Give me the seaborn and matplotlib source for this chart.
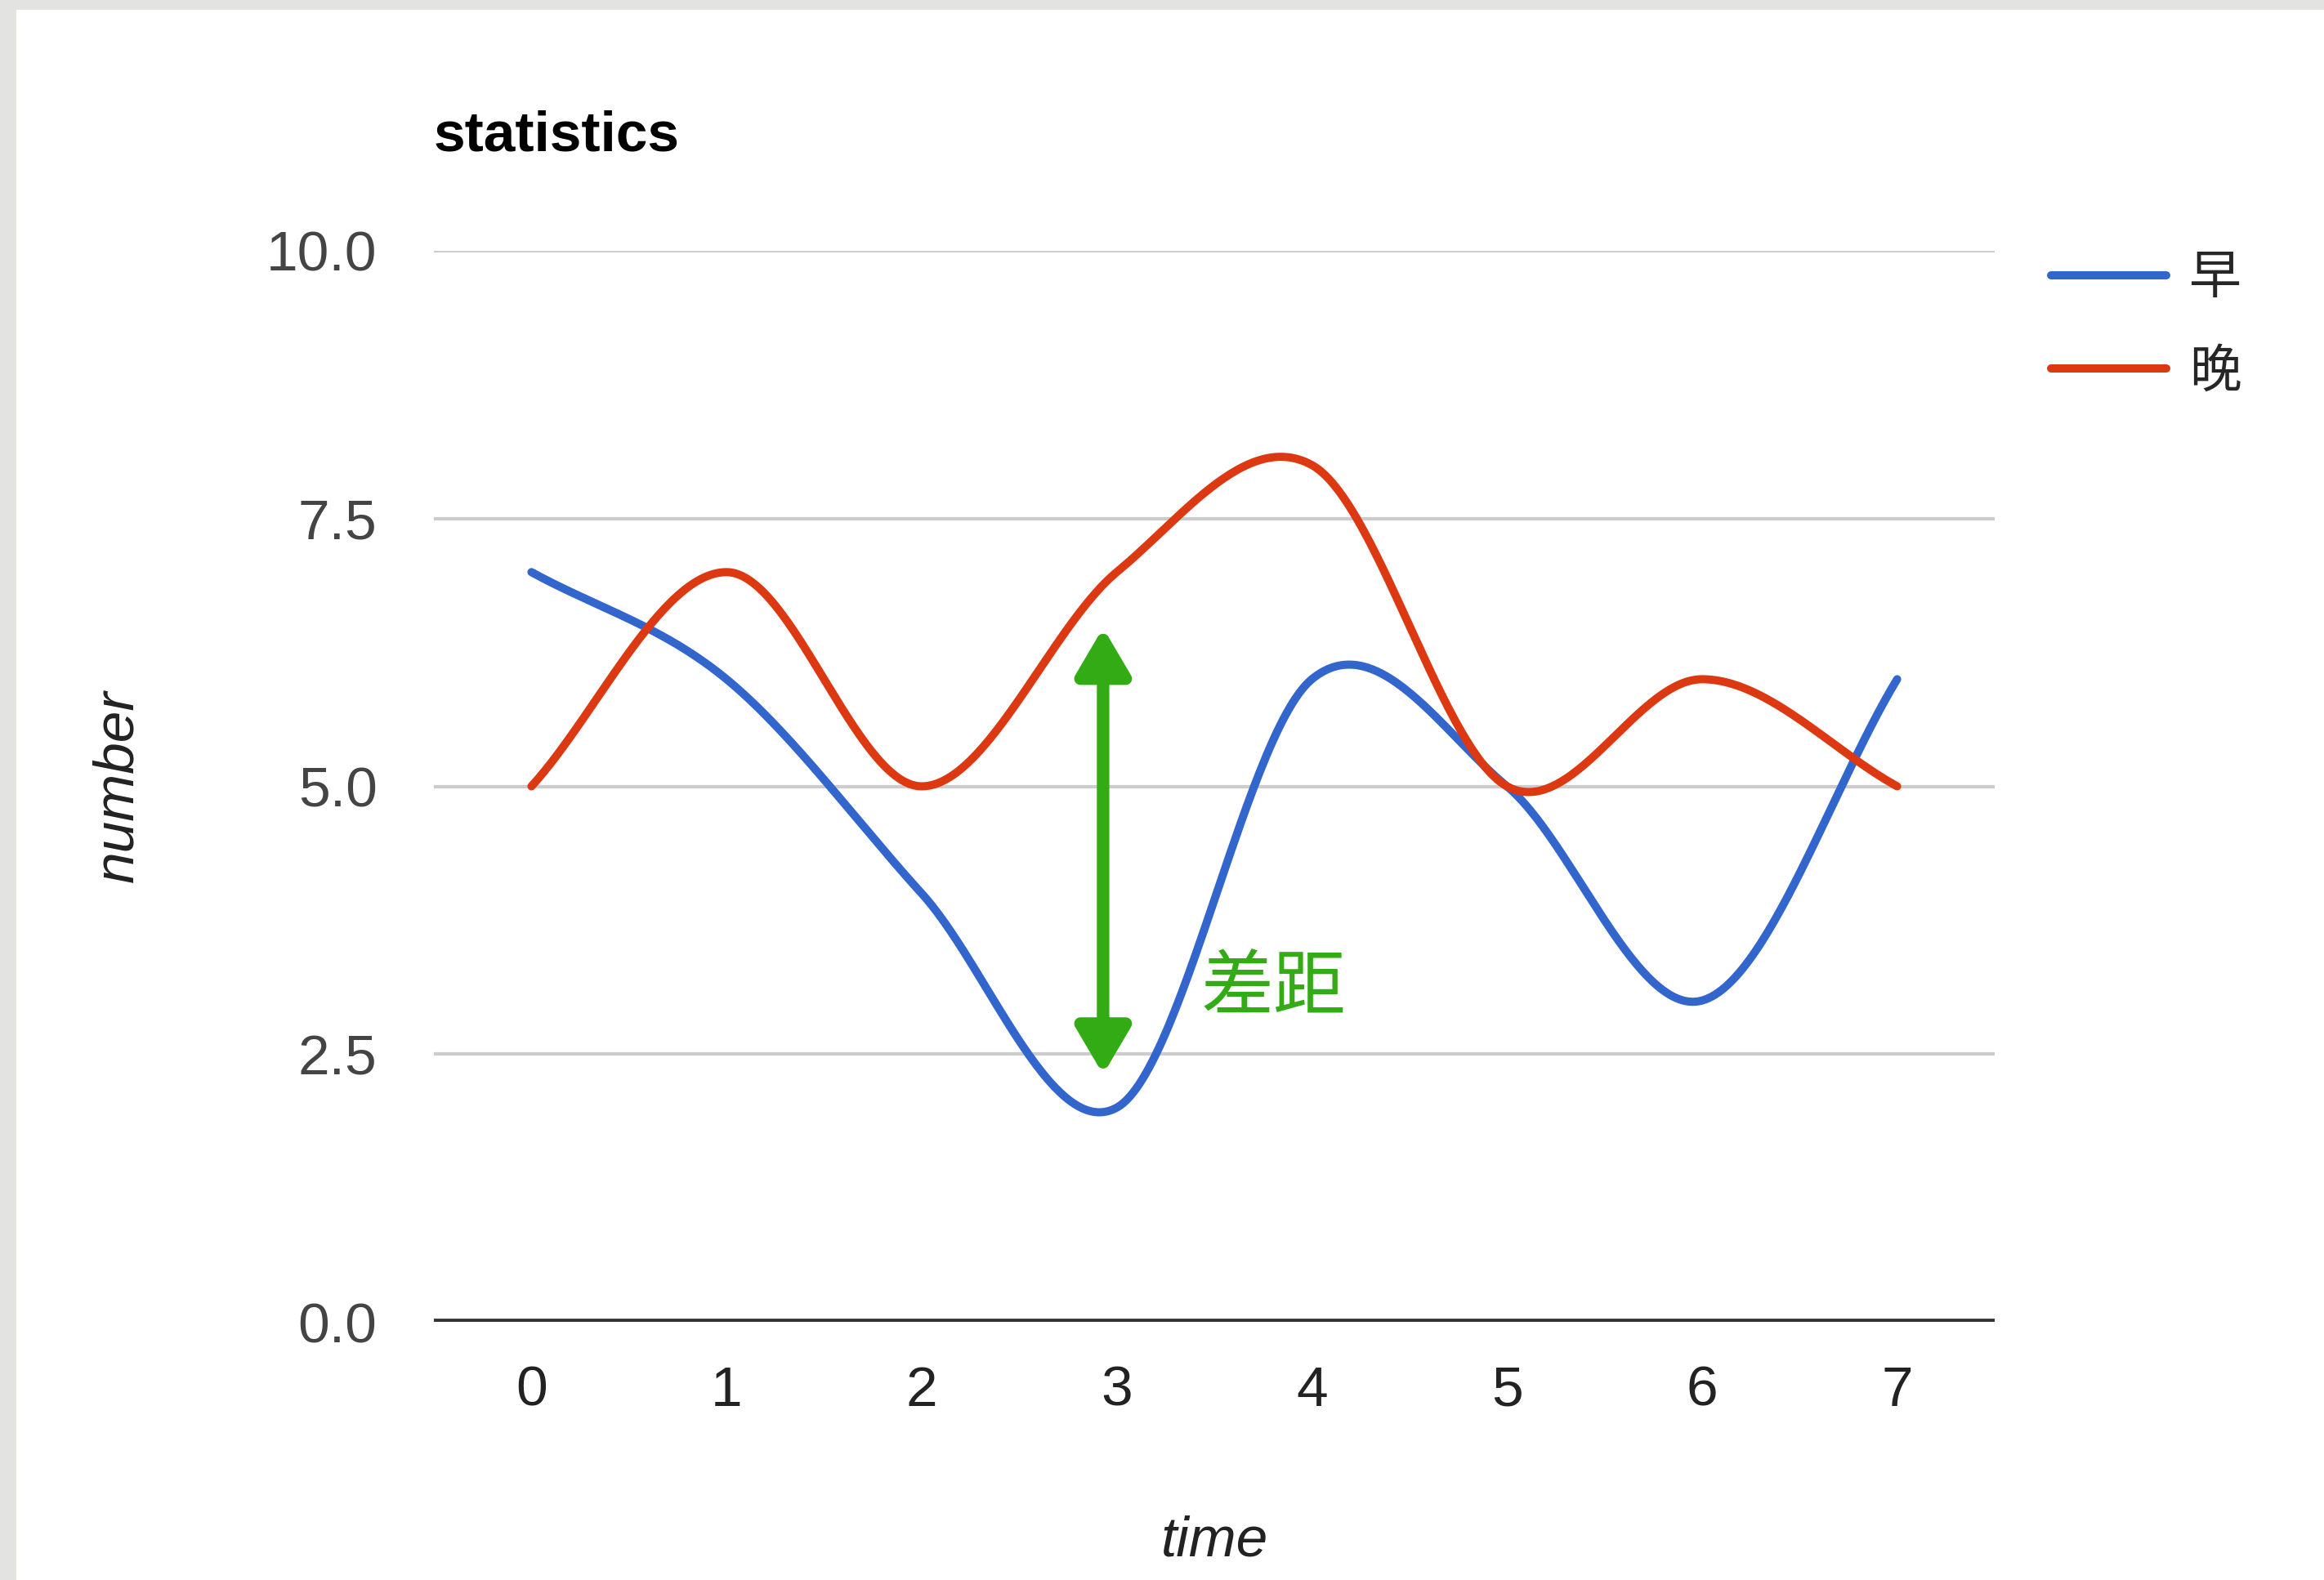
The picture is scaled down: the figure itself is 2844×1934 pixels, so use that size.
import numpy as np
import pandas as pd
import matplotlib
matplotlib.use("Agg")
import matplotlib.pyplot as plt
import seaborn as sns
from matplotlib.patches import FancyArrowPatch, ArrowStyle, Rectangle

# ---------------- data ----------------
time = [0, 1, 2, 3, 4, 5, 6, 7]
zao = [7, 6, 4, 2, 6, 5, 3, 6]      # 早
wan = [5, 7, 5, 7, 8, 5, 6, 5]      # 晚
series_names = ["早", "晚"]
y_ticks = [0, 2.5, 5, 7.5, 10]
y_tick_labels = ["0.0", "2.5", "5.0", "7.5", "10.0"]
title = "statistics"
x_label = "time"
y_label = "number"
annot_text = "差距"
gap_x = 2.93
gap_top = 6.48
gap_bottom = 2.31

colors = ["#3366cc", "#dc3912"]
green = "#33ab15"

sns.set_theme(style="white")
plt.rcParams["font.family"] = ["Liberation Sans", "Noto Sans CJK SC", "DejaVu Sans"]


def smooth(x, y, n=60):
    """Cubic Hermite (Catmull-Rom style) curve through the data points (rendering only)."""
    x = np.asarray(x, float)
    y = np.asarray(y, float)
    m = np.empty_like(y)
    m[1:-1] = (y[2:] - y[:-2]) / (x[2:] - x[:-2])
    m[0] = (y[1] - y[0]) / (x[1] - x[0])
    m[-1] = (y[-1] - y[-2]) / (x[-1] - x[-2])
    xs, ys = [], []
    for i in range(len(x) - 1):
        h = x[i + 1] - x[i]
        t = np.linspace(0, 1, n, endpoint=(i == len(x) - 2))
        h00 = 2 * t**3 - 3 * t**2 + 1
        h10 = t**3 - 2 * t**2 + t
        h01 = -2 * t**3 + 3 * t**2
        h11 = t**3 - t**2
        xs.append(x[i] + t * h)
        ys.append(h00 * y[i] + h10 * h * m[i] + h01 * y[i + 1] + h11 * h * m[i + 1])
    return np.concatenate(xs), np.concatenate(ys)


frames = []
for name, vals in zip(series_names, [zao, wan]):
    sx, sy = smooth(time, vals)
    frames.append(pd.DataFrame({"time": sx, "value": sy, "series": name}))
df = pd.concat(frames, ignore_index=True)

W, H, DPI = 2844, 1934, 200
fig = plt.figure(figsize=(W / DPI, H / DPI), dpi=DPI, facecolor="white")

# gray screenshot border (top and left)
fig.patches.append(Rectangle((0, 1 - 12 / H), 1, 12 / H, transform=fig.transFigure,
                             facecolor="#e3e3e1", edgecolor="none", zorder=-5))
fig.patches.append(Rectangle((0, 0), 20 / W, 1, transform=fig.transFigure,
                             facecolor="#e3e3e1", edgecolor="none", zorder=-5))

ax = fig.add_axes([531 / W, 1 - 1618 / H, (2441 - 531) / W, (1618 - 307) / H])
ax.set_facecolor("white")

sns.lineplot(data=df, x="time", y="value", hue="series", hue_order=series_names,
             palette=colors, linewidth=3.6, sort=False, estimator=None, units="series",
             ax=ax, legend=True)

ax.set_xlim(-0.5, 7.5)
ax.set_ylim(0, 10)
ax.set_xticks(time)
ax.set_xticklabels([str(t) for t in time])
ax.set_yticks(y_ticks)
ax.set_yticklabels(y_tick_labels)
for s in ax.spines.values():
    s.set_visible(False)
ax.grid(axis="y", color="#cccccc", linewidth=1.5)
ax.grid(axis="x", visible=False)
ax.axhline(0, color="#333333", linewidth=2.8, zorder=3)
ax.tick_params(axis="x", length=0, pad=19, labelsize=25, labelcolor="#222222")
ax.tick_params(axis="y", length=0, pad=25, labelsize=25, labelcolor="#444444")

ax.set_title(title, loc="left", fontsize=25, fontweight="bold", color="black", pad=44)
ax.set_xlabel(x_label, fontsize=25, style="italic", color="#222222", labelpad=43)
ax.set_ylabel(y_label, fontsize=25, style="italic", color="#222222", labelpad=54)

# legend
handles, labels = ax.get_legend_handles_labels()
ax.get_legend().remove()
for hnd in handles:
    hnd.set_linewidth(3.6)
fig.legend(handles, labels, loc="upper left", bbox_to_anchor=(2510 / W, 1 - 312 / H),
           bbox_transform=fig.transFigure, frameon=False, fontsize=23,
           handlelength=2.2, handletextpad=0.45, labelspacing=0.85,
           borderaxespad=0, borderpad=0)

# green double arrow annotation
arrow = FancyArrowPatch((gap_x, gap_bottom), (gap_x, gap_top),
                        arrowstyle=ArrowStyle("<|-|>", head_length=17, head_width=10),
                        mutation_scale=1, color=green, linewidth=5.5,
                        shrinkA=0, shrinkB=0, zorder=5)
ax.add_patch(arrow)
ax.text(3.43, 3.10, annot_text, color=green, fontsize=32, va="center", ha="left",
        fontweight="medium", family=["Noto Sans CJK SC", "DejaVu Sans"], zorder=5)

fig.savefig("out.png", dpi=DPI, facecolor="white")
